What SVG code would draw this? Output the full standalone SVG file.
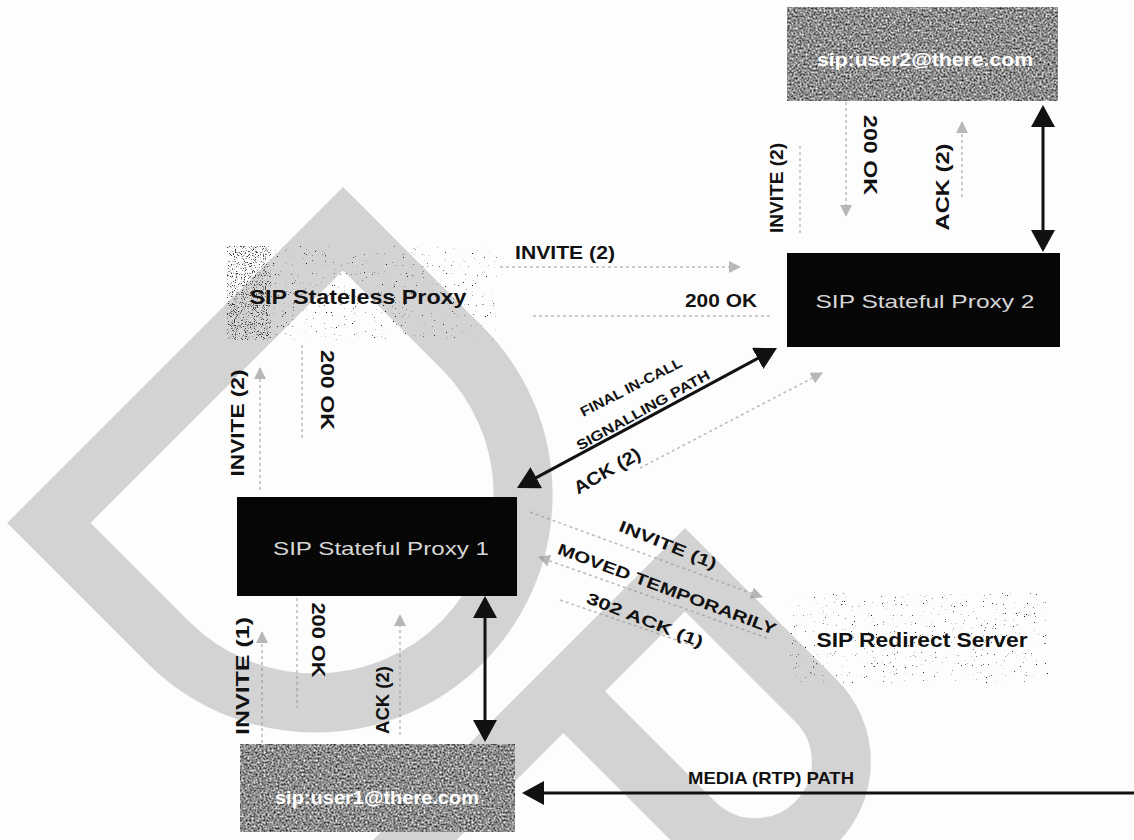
<svg xmlns="http://www.w3.org/2000/svg" width="1134" height="840" viewBox="0 0 1134 840">
<style>
.bg{fill:#fdfdfd}
.wm{fill:none;stroke:#d3d3d3;stroke-width:59;stroke-linejoin:miter;stroke-miterlimit:10}
.lbl{font-family:"Liberation Sans",Arial,sans-serif;font-weight:bold;font-size:18px;fill:#111;dominant-baseline:central;text-anchor:middle}
.sm{font-size:14px}
.md{font-size:16px}
.nb{font-family:"Liberation Sans",Arial,sans-serif;font-weight:bold;font-size:20px;fill:#111;dominant-baseline:central;text-anchor:middle}
.nw{font-family:"Liberation Sans",Arial,sans-serif;font-weight:bold;font-size:18px;fill:#fff;dominant-baseline:central;text-anchor:middle}
.np{font-family:"Liberation Sans",Arial,sans-serif;font-size:19px;fill:#d6d6d6;dominant-baseline:central;text-anchor:middle}
.blk{fill:#060606}
.solid{stroke:#111;stroke-width:3;fill:none}
.faint{stroke:#8f8f8f;stroke-width:1.5;stroke-dasharray:3 3;fill:none;opacity:0.6}
</style>
<defs>
<marker id="bh" viewBox="0 0 22 24" refX="19" refY="12" markerWidth="22" markerHeight="24" markerUnits="userSpaceOnUse" orient="auto-start-reverse"><path d="M0,0 L22,12 L0,24 Z" fill="#111"/></marker>
<marker id="gh" viewBox="0 0 12 12" refX="11" refY="6" markerWidth="12" markerHeight="12" markerUnits="userSpaceOnUse" orient="auto"><path d="M0,0 L12,6 L0,12 Z" fill="#8a8a8a"/></marker>
<filter id="grainDark" x="0" y="0" width="1" height="1" color-interpolation-filters="sRGB">
<feTurbulence type="fractalNoise" baseFrequency="0.5" numOctaves="2" seed="7" result="t"/>
<feColorMatrix in="t" type="matrix" values="1.3 0 0 0 -0.1  1.3 0 0 0 -0.1  1.3 0 0 0 -0.1  0 0 0 0 1" result="g"/>
<feComposite in="g" in2="SourceGraphic" operator="in"/>
</filter>
<filter id="speckle" x="0" y="0" width="1" height="1" color-interpolation-filters="sRGB">
<feTurbulence type="fractalNoise" baseFrequency="0.9" numOctaves="2" seed="3" result="t"/>
<feColorMatrix in="t" type="matrix" values="0 0 0 0 0.1  0 0 0 0 0.1  0 0 0 0 0.1  10 0 0 0 -7.3" result="s"/>
<feComposite in="s" in2="SourceGraphic" operator="in"/>
</filter>
<filter id="speckleDense" x="0" y="0" width="1" height="1" color-interpolation-filters="sRGB">
<feTurbulence type="fractalNoise" baseFrequency="0.9" numOctaves="2" seed="5" result="t"/>
<feColorMatrix in="t" type="matrix" values="0 0 0 0 0.25  0 0 0 0 0.25  0 0 0 0 0.25  8 0 0 0 -4.6" result="s"/>
<feComposite in="s" in2="SourceGraphic" operator="in"/>
</filter>
</defs>
<rect class="bg" x="0" y="0" width="1134" height="840"/>
<g id="watermark">
<path class="wm" transform="translate(343,187) rotate(45)" d="M29.5,29.5 H198 A208,208 0 0 1 198,445.5 H29.5 Z"/>
<path class="wm" transform="translate(685,528) rotate(45)" d="M29.5,600 V29.5 H215 A86,86 0 0 1 215,201.5 H29.5"/>
</g>
<g id="connectors">
<line class="solid" x1="1043" y1="108" x2="1043" y2="249" marker-start="url(#bh)" marker-end="url(#bh)"/>
<line class="solid" x1="485" y1="599" x2="485" y2="739" marker-start="url(#bh)" marker-end="url(#bh)"/>
<line class="solid" x1="519.6" y1="486.6" x2="774.4" y2="349.4" marker-start="url(#bh)" marker-end="url(#bh)"/>
<line class="solid" x1="1140" y1="793" x2="525" y2="793" marker-end="url(#bh)"/>
<line class="faint" x1="500" y1="267" x2="740" y2="267" marker-end="url(#gh)"/>
<line class="faint" x1="770" y1="316" x2="530" y2="316"/>
<line class="faint" x1="260" y1="490" x2="260" y2="368" marker-end="url(#gh)"/>
<line class="faint" x1="302" y1="345" x2="302" y2="440"/>
<line class="faint" x1="262" y1="743" x2="262" y2="632" marker-end="url(#gh)"/>
<line class="faint" x1="297" y1="598" x2="297" y2="708"/>
<line class="faint" x1="400" y1="735" x2="400" y2="615" marker-end="url(#gh)"/>
<line class="faint" x1="800" y1="233" x2="800" y2="145"/>
<line class="faint" x1="846" y1="102" x2="846" y2="216" marker-end="url(#gh)"/>
<line class="faint" x1="962" y1="197" x2="962" y2="122" marker-end="url(#gh)"/>
<line class="faint" x1="640" y1="468" x2="822" y2="373" marker-end="url(#gh)"/>
<line class="faint" x1="530" y1="512" x2="762" y2="597" marker-end="url(#gh)"/>
<line class="faint" x1="767" y1="638" x2="539" y2="557" marker-end="url(#gh)"/>
<line class="faint" x1="560" y1="600" x2="700" y2="648"/>
</g>
<g id="labels">
<text class="lbl" transform="translate(777,188) rotate(-90)" textLength="90" lengthAdjust="spacingAndGlyphs">INVITE (2)</text>
<text class="lbl" transform="translate(870,155) rotate(90)" textLength="80" lengthAdjust="spacingAndGlyphs">200 OK</text>
<text class="lbl" transform="translate(943,187) rotate(-90)" textLength="87" lengthAdjust="spacingAndGlyphs">ACK (2)</text>
<text class="lbl" x="565" y="253" textLength="100" lengthAdjust="spacingAndGlyphs">INVITE (2)</text>
<text class="lbl" x="721" y="301" textLength="72" lengthAdjust="spacingAndGlyphs">200 OK</text>
<text class="lbl" transform="translate(238,423) rotate(-90)" textLength="107" lengthAdjust="spacingAndGlyphs">INVITE (2)</text>
<text class="lbl" transform="translate(327,390) rotate(90)" textLength="80" lengthAdjust="spacingAndGlyphs">200 OK</text>
<text class="lbl sm" transform="translate(631,387) rotate(-27)" textLength="112" lengthAdjust="spacingAndGlyphs">FINAL IN-CALL</text>
<text class="lbl sm" transform="translate(643,410) rotate(-29)" textLength="150" lengthAdjust="spacingAndGlyphs">SIGNALLING PATH</text>
<text class="lbl" transform="translate(607,471) rotate(-30)" textLength="74" lengthAdjust="spacingAndGlyphs">ACK (2)</text>
<text class="lbl md" transform="translate(668,545) rotate(22)" textLength="104" lengthAdjust="spacingAndGlyphs">INVITE (1)</text>
<text class="lbl md" transform="translate(667,589) rotate(20.5)" textLength="232" lengthAdjust="spacingAndGlyphs">MOVED TEMPORARILY</text>
<text class="lbl md" transform="translate(645,620) rotate(21.5)" textLength="124" lengthAdjust="spacingAndGlyphs">302 ACK (1)</text>
<text class="lbl" transform="translate(243,676) rotate(-90)" textLength="118" lengthAdjust="spacingAndGlyphs">INVITE (1)</text>
<text class="lbl" transform="translate(318,640) rotate(90)" textLength="75" lengthAdjust="spacingAndGlyphs">200 OK</text>
<text class="lbl" transform="translate(383,700) rotate(-90)" textLength="68" lengthAdjust="spacingAndGlyphs">ACK (2)</text>
<text class="lbl" x="771" y="778" style="font-size:17px" textLength="166" lengthAdjust="spacingAndGlyphs">MEDIA (RTP) PATH</text>
</g>
<g id="user2">
<rect x="787" y="7" width="271" height="94" fill="#888" filter="url(#grainDark)"/>
<text class="nw" x="925" y="60" textLength="216" lengthAdjust="spacingAndGlyphs">sip:user2@there.com</text>
</g>
<g id="proxy2">
<rect class="blk" x="787" y="253" width="273" height="94"/>
<text class="np" x="925" y="301" textLength="219" lengthAdjust="spacingAndGlyphs">SIP Stateful Proxy 2</text>
</g>
<g id="stateless">
<rect x="227" y="246" width="270" height="94" fill="#fff" filter="url(#speckle)"/>
<rect x="227" y="246" width="44" height="94" fill="#fff" filter="url(#speckleDense)"/>
<text class="nb" x="358" y="297" textLength="217" lengthAdjust="spacingAndGlyphs">SIP Stateless Proxy</text>
</g>
<g id="proxy1">
<rect class="blk" x="237" y="497" width="280" height="99"/>
<text class="np" x="381" y="548" textLength="216" lengthAdjust="spacingAndGlyphs">SIP Stateful Proxy 1</text>
</g>
<g id="redirect">
<rect x="790" y="593" width="258" height="90" fill="#fff" filter="url(#speckle)"/>
<text class="nb" x="922" y="640" textLength="211" lengthAdjust="spacingAndGlyphs">SIP Redirect Server</text>
</g>
<g id="user1">
<rect x="240" y="744" width="275" height="88" fill="#888" filter="url(#grainDark)"/>
<text class="nw" x="377" y="798" textLength="204" lengthAdjust="spacingAndGlyphs">sip:user1@there.com</text>
</g>
</svg>
